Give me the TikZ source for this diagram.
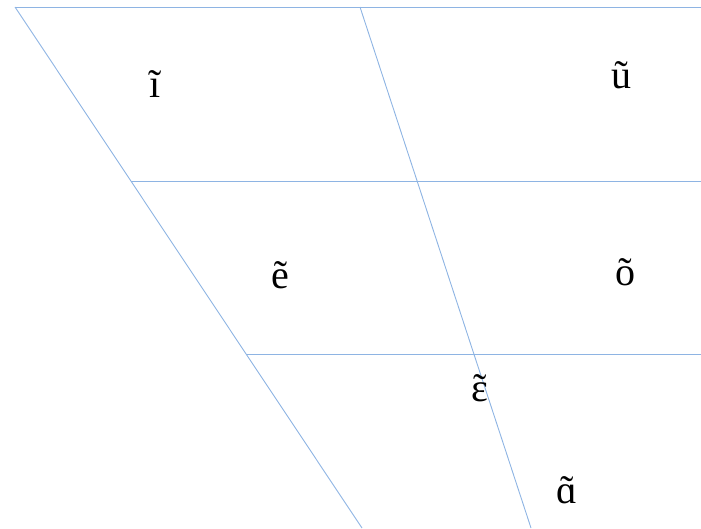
\documentclass[tikz,border=0pt]{standalone}
\usepackage{fontspec}
\setmainfont{Liberation Serif}
\usetikzlibrary{positioning}
\definecolor{chartline}{HTML}{8EB4E3}
\newcommand{\nasalv}[1]{\accent"02DC #1}

\begin{document}
\begin{tikzpicture}[x=1pt,y=-1pt,
  vowel/.style={anchor=base,inner sep=0pt,font=\fontsize{40}{48}\selectfont},
  grid/.style={draw=chartline,line width=0.9pt}]
  \useasboundingbox (0,0) rectangle (701,528);
  % corners of the chart
  \coordinate (topleft) at (15,7);
  \coordinate (topmid) at (360,7);
  \coordinate (topright) at (701,7);
  \coordinate (botleft) at (362,528);
  \coordinate (botmid) at (531,528);
  \coordinate (highleft) at (131,181);
  \coordinate (highright) at (701,181);
  \coordinate (lowleft) at (246,354);
  \coordinate (lowright) at (701,354);
  \draw[grid] (topleft)--(topright);
  \draw[grid] (topleft)--(botleft);
  \draw[grid] (topmid)--(botmid);
  \draw[grid] (highleft)--(highright);
  \draw[grid] (lowleft)--(lowright);
  % vowels
  \node[vowel] (i) at (155,97) {ĩ};
  \node[vowel] (u) at (621,88) {ũ};
  \node[vowel] (e) at (280,288) {ẽ};
  \node[vowel] (o) at (625,285) {õ};
  \node[vowel] (eps) at (480,401) {\nasalv{ɛ}};
  \node[vowel] (a) at (567,503) {\nasalv{ɑ}};
\end{tikzpicture}
\end{document}
